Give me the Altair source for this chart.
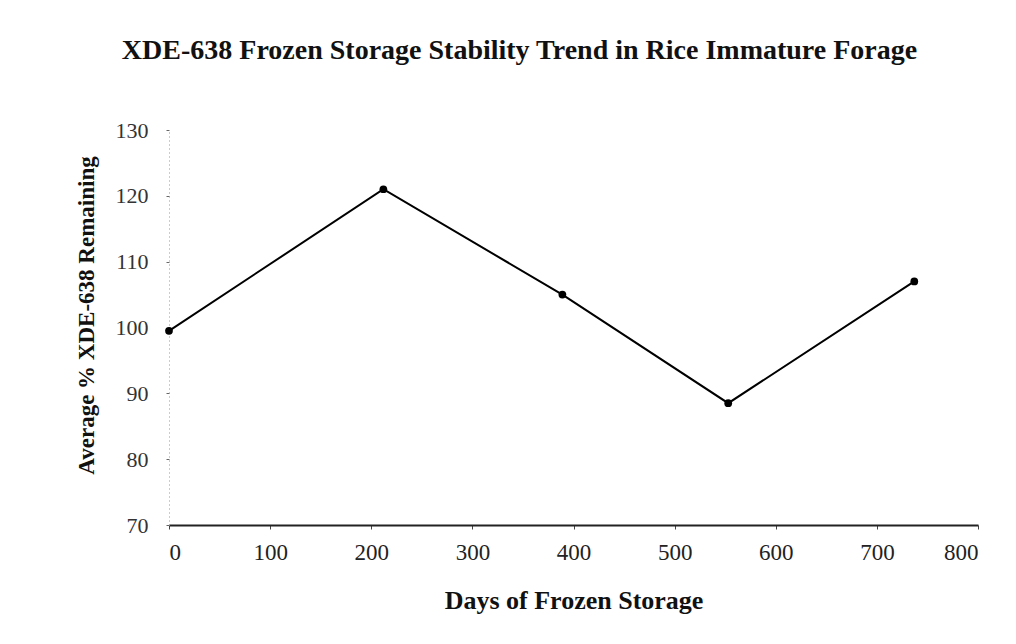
import altair as alt
import pandas as pd

days = [0, 212, 389, 553, 737]
remaining = [99.5, 121, 105, 88.5, 107]
x_ticks = [0, 100, 200, 300, 400, 500, 600, 700, 800]
y_ticks = [70, 80, 90, 100, 110, 120, 130]

df = pd.DataFrame({"days": days, "remaining": remaining})

FONT = "Liberation Serif"

base = alt.Chart(df).encode(
    x=alt.X("days:Q",
            scale=alt.Scale(domain=[0, 800], nice=False, zero=False),
            axis=alt.Axis(values=x_ticks, title="Days of Frozen Storage",
                          grid=False, domainColor="#222", domainWidth=1.8,
                          tickColor="#444", tickSize=4, labelPadding=12,
                          labelFontSize=23, labelColor="#222",
                          titleFontSize=26, titleFontWeight="bold",
                          titlePadding=23, titleColor="#111",
                          labelFont=FONT, titleFont=FONT)),
    y=alt.Y("remaining:Q",
            scale=alt.Scale(domain=[70, 130], nice=False, zero=False),
            axis=alt.Axis(values=y_ticks, title="Average % XDE-638 Remaining",
                          grid=False, domainColor="#999", domainDash=[1, 3],
                          domainWidth=1, tickColor="#666", tickSize=3,
                          labelPadding=18, labelFontSize=22, labelColor="#333",
                          titleFontSize=23, titleFontWeight="bold",
                          titleColor="#111", titleAngle=270,
                          titleX=-83, titleY=185, titleAlign="center",
                          titleBaseline="middle",
                          labelFont=FONT, titleFont=FONT)),
)

line = base.mark_line(color="black", strokeWidth=2)
pts = base.mark_point(filled=True, color="black", size=60, opacity=1)

chart = (line + pts).properties(
    width=809, height=395,
    autosize=alt.AutoSizeParams(type="none"),
    padding={"left": 161, "top": 122, "right": 30, "bottom": 100},
    title=alt.TitleParams(
        "XDE-638 Frozen Storage Stability Trend in Rice Immature Forage",
        font=FONT, fontSize=28, fontWeight="bold", color="#111",
        anchor="middle", dx=-54, offset=54),
).configure(background="white").configure_view(stroke="transparent", strokeWidth=0)

chart.save("out.html", embed_options={"renderer": "svg", "actions": False})
